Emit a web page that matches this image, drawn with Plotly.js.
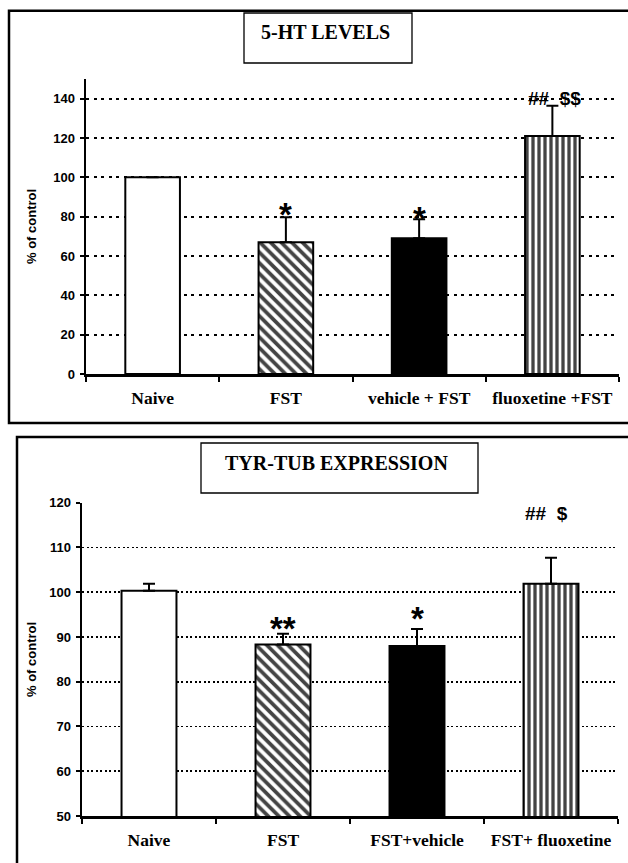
<!DOCTYPE html>
<html>
<head>
<meta charset="utf-8">
<script src="https://cdn.plot.ly/plotly-3.0.1.min.js"></script>
<style>html,body{margin:0;padding:0;background:#fff;}#chart{width:628px;height:863px;}</style>
</head>
<body>
<div id="chart"></div>
<script>
// ---- data ----
const topTitle = "5-HT LEVELS";
const topCategories = ["Naive", "FST", "vehicle + FST", "fluoxetine +FST"];
const topValues = [100, 67, 69, 121];
const topErrors = [0, 12.7, 9.7, 15.4];
const topSig = ["", "*", "*", "##  $$"];
const topSigY = [null, 84.5, 82.5, 140];
const topYTicks = [0, 20, 40, 60, 80, 100, 120, 140];

const botTitle = "TYR-TUB EXPRESSION";
const botCategories = ["Naive", "FST", "FST+vehicle", "FST+ fluoxetine"];
const botValues = [100.3, 88.3, 88.0, 101.9];
const botErrors = [1.6, 2.4, 3.8, 5.8];
const botSig = ["", "**", "*", "##  $"];
const botSigY = [null, 93.4, 95.6, 117.6];
const botYTicks = [50, 60, 70, 80, 90, 100, 110, 120];

const yLabel = "% of control";

// ---- styles ----
const W = 628, H = 863;
const px = x => x / W;
const py = y => 1 - y / H;
const serif = "Liberation Serif, Times New Roman, serif";
const sans = "Liberation Sans, Arial, sans-serif";

const barColors = ["white", "white", "black", "white"];
const barPattern = {
  shape: ["", "\\", "", "|"],
  fillmode: "overlay",
  fgcolor: "black",
  fgopacity: 1,
  bgcolor: "white",
  size: [8, 7.5, 8, 6],
  solidity: [0.3, 0.5, 0.3, 0.55]
};

function barTrace(cats, vals, errs, xa, ya) {
  return {
    type: "bar", x: cats, y: vals, xaxis: xa, yaxis: ya,
    width: 0.41,
    marker: { color: barColors, pattern: barPattern, line: { color: "black", width: 2 } },
    error_y: { type: "data", symmetric: false, array: errs, arrayminus: errs.map(() => 0),
               color: "black", thickness: 2, width: 6 },
    hoverinfo: "skip", showlegend: false
  };
}

const data = [
  barTrace(topCategories, topValues, topErrors, "x", "y"),
  barTrace(botCategories, botValues, botErrors, "x2", "y2")
];

function sigAnnots(cats, sig, sigY, xr, yr, hashShift) {
  const out = [];
  sig.forEach((s, i) => {
    if (!s) return;
    const isStar = s.indexOf("*") >= 0;
    out.push({
      x: cats[i], y: sigY[i], xref: xr, yref: yr, text: s, showarrow: false,
      xanchor: "center", yanchor: "middle",
      yshift: isStar ? -7 : 0, xshift: isStar ? 0 : hashShift,
      font: { family: sans, size: isStar ? 33 : 19, color: "black", weight: "bold" }
    });
  });
  return out;
}

const xaxisCommon = {
  type: "category", range: [-0.5, 3.5], fixedrange: true,
  showline: true, linecolor: "black", linewidth: 2.5,
  ticks: "outside", tickson: "boundaries", ticklen: 5, tickwidth: 2, tickcolor: "black",
  showgrid: false, zeroline: false,
  tickfont: { family: serif, size: 17.5, color: "black", weight: "bold" },
  ticklabelstandoff: 6
};

const layout = {
  width: W, height: H,
  margin: { l: 0, r: 0, t: 0, b: 0, pad: 0 },
  paper_bgcolor: "white", plot_bgcolor: "rgba(0,0,0,0)",
  bargap: 0.59,
  xaxis: Object.assign({}, xaxisCommon, { domain: [px(86), px(619)], anchor: "y" }),
  yaxis: {
    domain: [py(374), py(79)], range: [0, 150], anchor: "x",
    tickmode: "array", tickvals: topYTicks, ticktext: topYTicks.map(String),
    showline: true, linecolor: "black", linewidth: 2.5,
    ticks: "outside", ticklen: 4, tickwidth: 2, tickcolor: "black",
    showgrid: true, gridcolor: "black", gridwidth: 2.2, griddash: "3px,4.5px",
    zeroline: false, fixedrange: true,
    tickfont: { family: sans, size: 13, color: "black", weight: "bold" },
    ticklabelstandoff: 2
  },
  xaxis2: Object.assign({}, xaxisCommon, { domain: [px(82), px(618)], anchor: "y2" }),
  yaxis2: {
    domain: [py(816), py(502.7)], range: [50, 120], anchor: "x2",
    tickmode: "array", tickvals: botYTicks, ticktext: botYTicks.map(String),
    showline: true, linecolor: "black", linewidth: 2.5,
    ticks: "outside", ticklen: 4, tickwidth: 2, tickcolor: "black",
    showgrid: true, gridcolor: "black", gridwidth: 1.6, griddash: "2px,2.5px",
    zeroline: false, fixedrange: true,
    tickfont: { family: sans, size: 13, color: "black", weight: "bold" },
    ticklabelstandoff: 2
  },
  shapes: [
    // panel frames
    { type: "path", xref: "paper", yref: "paper",
      path: `M ${px(640)} ${py(10.7)} L ${px(9)} ${py(10.7)} L ${px(9)} ${py(423)} L ${px(640)} ${py(423)}`,
      line: { color: "black", width: 2.5 } },
    { type: "path", xref: "paper", yref: "paper",
      path: `M ${px(640)} ${py(437)} L ${px(17)} ${py(437)} L ${px(17)} ${py(880)}`,
      line: { color: "black", width: 2.5 } },
    // title boxes
    { type: "rect", xref: "paper", yref: "paper", x0: px(244), x1: px(412), y0: py(63), y1: py(13),
      line: { color: "black", width: 1.3 } },
    { type: "rect", xref: "paper", yref: "paper", x0: px(201), x1: px(478), y0: py(493), y1: py(443),
      line: { color: "black", width: 1.3 } }
  ],
  annotations: [
    { xref: "paper", yref: "paper", x: px(325), y: py(32), text: topTitle, showarrow: false,
      xanchor: "center", yanchor: "middle",
      font: { family: serif, size: 20, color: "black", weight: "bold" } },
    { xref: "paper", yref: "paper", x: px(336), y: py(463), text: botTitle, showarrow: false,
      xanchor: "center", yanchor: "middle",
      font: { family: serif, size: 20, color: "black", weight: "bold" } },
    { xref: "paper", yref: "paper", x: px(31), y: py(227), text: yLabel, showarrow: false,
      textangle: -90, xanchor: "center", yanchor: "middle",
      font: { family: sans, size: 13, color: "black", weight: "bold" } },
    { xref: "paper", yref: "paper", x: px(31), y: py(660), text: yLabel, showarrow: false,
      textangle: -90, xanchor: "center", yanchor: "middle",
      font: { family: sans, size: 13, color: "black", weight: "bold" } }
  ].concat(sigAnnots(topCategories, topSig, topSigY, "x", "y", 2))
   .concat(sigAnnots(botCategories, botSig, botSigY, "x2", "y2", -5))
};

Plotly.newPlot("chart", data, layout, { staticPlot: true, displayModeBar: false });
</script>
</body>
</html>
